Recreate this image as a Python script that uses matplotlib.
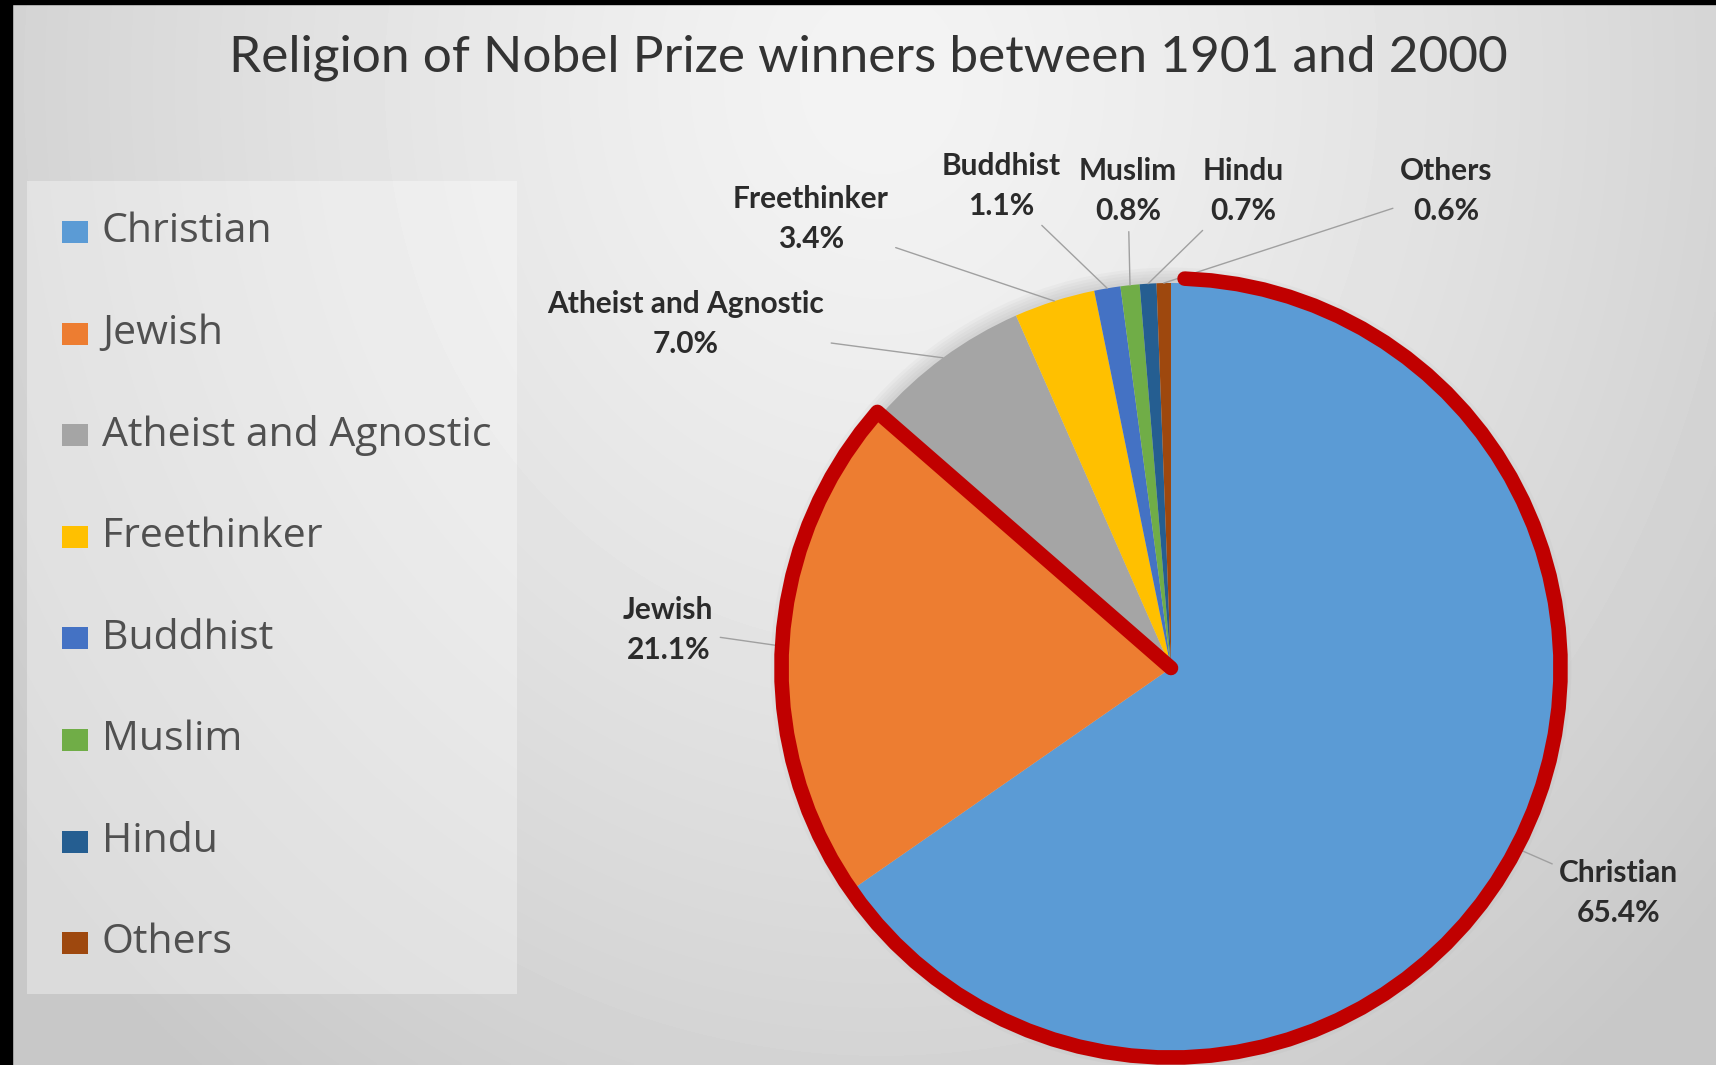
# Religion of Nobel Prize winners pie (1901-2000)
import numpy as np
import matplotlib.pyplot as plt
from matplotlib.patches import Rectangle, Circle

religions = ['Christian', 'Jewish', 'Atheist and Agnostic', 'Freethinker',
             'Buddhist', 'Muslim', 'Hindu', 'Others']
shares = [65.4, 21.1, 7.0, 3.4, 1.1, 0.8, 0.7, 0.6]
colors = ['#5B9BD5', '#ED7D31', '#A5A5A5', '#FFC000',
          '#4472C4', '#70AD47', '#255E91', '#9E480E']

# where the data labels sit, in pie units (radius = 1)
label_pos = [(1.162, -0.584), (-1.306, 0.099), (-1.260, 0.894), (-0.935, 1.166),
             (-0.442, 1.252), (-0.112, 1.239), (0.187, 1.239), (0.714, 1.239)]

W, H = 1716, 1065
fig = plt.figure(figsize=(W / 100, H / 100), dpi=100)

# background in pixel coordinates
bg = fig.add_axes([0, 0, 1, 1])
bg.set_xlim(0, W)
bg.set_ylim(H, 0)
bg.axis('off')

yy, xx = np.mgrid[0:H:3, 0:W:3]
r = np.hypot((xx - 880) / 1100, (yy - 80) / 1250)
shade = np.clip(0.955 - 0.17 * r ** 1.3, 0.785, 1)
bg.imshow(shade, cmap='gray', vmin=0, vmax=1, extent=(0, W, H, 0),
          interpolation='bilinear', aspect='auto')

bg.add_patch(Rectangle((0, 0), 12, H, color='black'))
bg.add_patch(Rectangle((0, 0), W, 4, color='black'))

bg.text(868, 58, 'Religion of Nobel Prize winners between 1901 and 2000',
        ha='center', va='center', fontsize=37, color='#333333',
        family=['Lato', 'DejaVu Sans'])

# legend panel
bg.add_patch(Rectangle((27, 181), 490, 813, fc='white', alpha=0.35, ec='none'))
for i, (name, c) in enumerate(zip(religions, colors)):
    y = 232 + i * 101.6
    bg.add_patch(Rectangle((62, y - 11), 26, 22, fc=c, ec='none'))
    bg.text(102, y, name, va='center', ha='left', fontsize=29.5,
            color='#505050', family=['Open Sans', 'DejaVu Sans'])

# pie
R = 385
cx, cy = 1171, 668
span = 1.1
side = 2 * span * R
pax = fig.add_axes([(cx - side / 2) / W, (H - cy - side / 2) / H, side / W, side / H])
pax.patch.set_alpha(0)

for k in range(5):
    pax.add_patch(Circle((0, 0), 1.0 + 0.008 * (k + 1), fc='#808080', alpha=0.05,
                         ec='none', zorder=0))

wedges, _ = pax.pie(shares, colors=colors, startangle=90, counterclock=False,
                    radius=1, wedgeprops=dict(ec='none', zorder=2))

total = sum(shares)
for w, name, s, pos in zip(wedges, religions, shares, label_pos):
    mid = np.deg2rad((w.theta1 + w.theta2) / 2)
    pax.annotate(f'{name}\n{s:.1f}%', xy=(np.cos(mid), np.sin(mid)), xytext=pos,
                 ha='center', va='center', fontsize=21.5, fontweight='bold',
                 color='#2b2b2b', linespacing=1.5,
                 family=['Lato', 'DejaVu Sans'],
                 arrowprops=dict(arrowstyle='-', color='#a0a0a0', lw=1,
                                 shrinkA=3, shrinkB=0),
                 annotation_clip=False)

# red hand-drawn outline around Christian + Jewish
t_end = 90 - 360 * sum(shares[:2]) / total
t = np.deg2rad(np.linspace(88, t_end, 80))
ox = list(1.012 * np.cos(t)) + [0.0]
oy = list(1.012 * np.sin(t)) + [0.0]
pax.plot(ox, oy, color='#C00000', lw=10.5, solid_capstyle='round',
         solid_joinstyle='round', zorder=5)

pax.set_xlim(-span, span)
pax.set_ylim(-span, span)
pax.axis('off')

fig.savefig('out.png', dpi=100)
